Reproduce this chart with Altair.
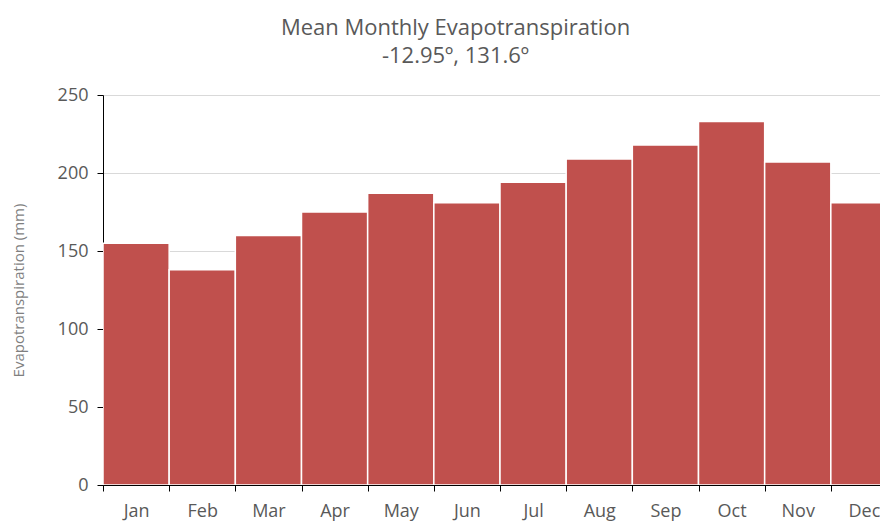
import altair as alt
import pandas as pd

months = ["Jan", "Feb", "Mar", "Apr", "May", "Jun", "Jul", "Aug", "Sep", "Oct", "Nov", "Dec"]
et_mm = [155, 138, 160, 175, 187, 181, 194, 209, 218, 233, 207, 181]

df = pd.DataFrame({"month": months, "et": et_mm})

FONT = "Open Sans"

chart = alt.Chart(df).mark_bar(
    color="#c0504d", stroke="#ffffff", strokeWidth=1.5, clip=True
).encode(
    x=alt.X("month:N", sort=months, title=None,
            scale=alt.Scale(paddingInner=0, paddingOuter=0, range=[0, 794]),
            axis=alt.Axis(labelAngle=0, tickBand="extent", domainColor="#000000",
                          tickColor="#000000", tickSize=6, labelPadding=11,
                          labelFontSize=18, labelColor="#595959", labelFont=FONT,
                          grid=False)),
    y=alt.Y("et:Q", title="Evapotranspiration (mm)",
            scale=alt.Scale(domain=[0, 250]),
            axis=alt.Axis(values=[0, 50, 100, 150, 200, 250], domainColor="#000000",
                          tickColor="#000000", tickSize=6, labelPadding=9,
                          labelFontSize=18, labelColor="#595959", labelFont=FONT,
                          titleFontSize=15, titleColor="#7f7f7f", titleFont=FONT,
                          titleFontWeight="normal", titlePadding=31,
                          gridColor="#d9d9d9")),
).properties(
    width=777,
    height=390,
    title=alt.TitleParams(
        text=["Mean Monthly Evapotranspiration", "-12.95º, 131.6º"],
        font=FONT, fontSize=22, fontWeight="normal", color="#595959",
        anchor="middle", dx=-36, lineHeight=28, offset=18,
    ),
    autosize=alt.AutoSizeParams(type="none"),
    padding={"left": 95, "top": 87, "right": 0, "bottom": 36},
).configure_view(stroke=None)

chart.save("out.html", embed_options={"renderer": "svg", "actions": False})
